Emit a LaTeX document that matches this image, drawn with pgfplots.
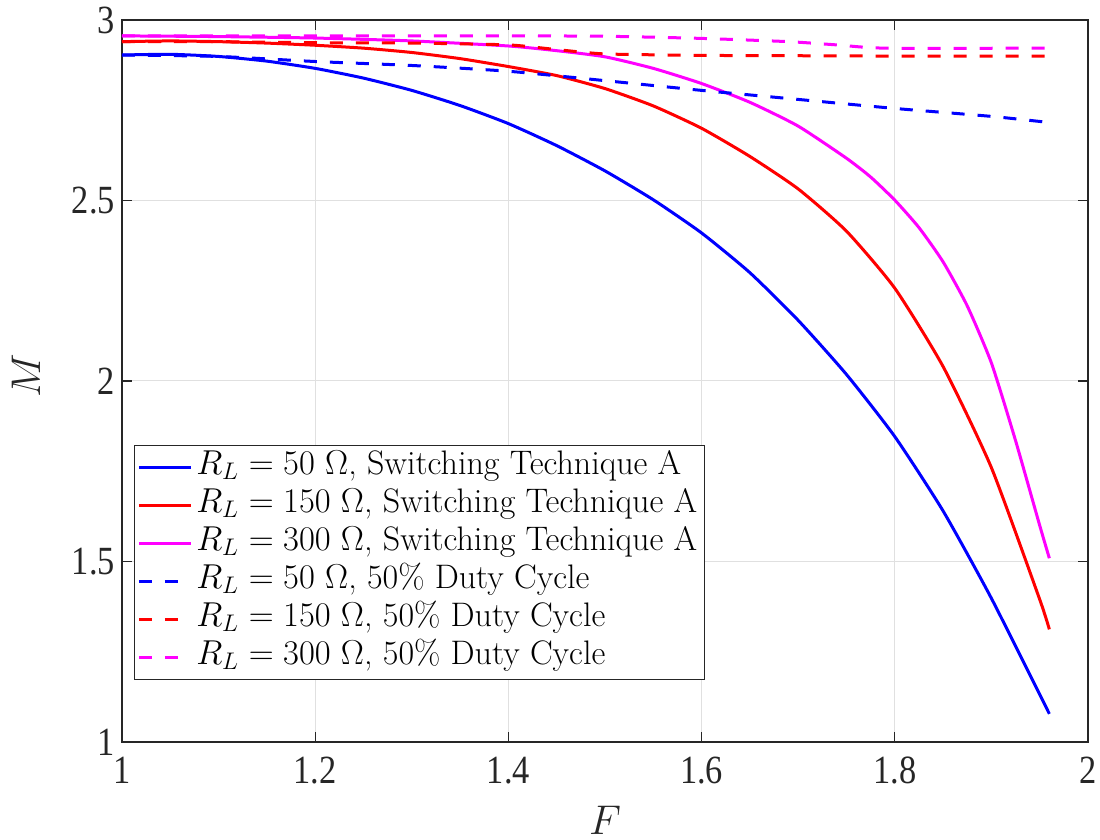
\documentclass[border=0pt]{standalone}
\usepackage{fontspec}
\usepackage{pgfplots}
\pgfplotsset{compat=1.18}
\newfontfamily\tickfont[FakeStretch=0.86]{Liberation Serif}
\definecolor{axgray}{gray}{0.15}
\definecolor{gridgray}{gray}{0.88}
\definecolor{mblue}{rgb}{0,0,1}
\definecolor{mred}{rgb}{1,0,0}
\definecolor{mmag}{rgb}{1,0,1}
\begin{document}
\begin{tikzpicture}
\begin{axis}[
  scale only axis, width=483pt, height=361pt,
  at={(0pt,0pt)}, anchor=south west,
  xmin=1, xmax=2, ymin=1, ymax=3,
  xtick={1,1.2,1.4,1.6,1.8,2}, ytick={1,1.5,2,2.5,3},
  grid=major, major grid style={draw=gridgray, line width=0.5pt},
  axis line style={draw=axgray, line width=0.6pt},
  tick style={draw=axgray, line width=0.6pt}, tick align=inside, major tick length=5pt,
  /pgf/number format/assume math mode=true,
  ticklabel style={font=\tickfont\fontsize{20}{20}\selectfont, text=black!85},
  xticklabel style={yshift=-4pt},
  yticklabel style={xshift=0pt},
  xlabel={$F$}, ylabel={$M$},
  label style={font=\fontsize{22}{26}\selectfont, text=black!85},
  xlabel style={at={(axis description cs:0.5,-0.108)}, anchor=center},
  ylabel style={at={(axis description cs:-0.0994,0.507)}, anchor=center},
  legend style={at={(axis description cs:0.0124,0.0859)}, anchor=south west,
    draw=axgray, line width=0.5pt, fill=white, inner sep=1.5pt,
    font=\fontsize{17}{19}\selectfont, row sep=0pt,
    nodes={inner ysep=0pt, text height=13pt, text depth=6pt}},
  legend cell align=left,
  legend image code/.code={\draw (0pt,0pt) -- (26pt,0pt);},
  every axis plot/.append style={line width=1.5pt, smooth, tension=0.35},
]
\addplot[mblue] coordinates {
(1.00,2.903) (1.05,2.905) (1.10,2.899) (1.15,2.886) (1.20,2.866) (1.25,2.839)
(1.30,2.805) (1.35,2.763) (1.40,2.713) (1.45,2.652) (1.50,2.582) (1.55,2.502)
(1.60,2.410) (1.65,2.300) (1.70,2.168) (1.75,2.018) (1.80,1.846) (1.85,1.640)
(1.90,1.398) (1.96,1.078)};
\addlegendentry{$R_L=50~\Omega$, Switching Technique A}
\addplot[mred] coordinates {
(1.00,2.940) (1.05,2.942) (1.10,2.940) (1.15,2.936) (1.20,2.930) (1.25,2.922)
(1.30,2.910) (1.35,2.893) (1.40,2.871) (1.45,2.846) (1.50,2.810) (1.55,2.762)
(1.60,2.700) (1.65,2.622) (1.70,2.532) (1.75,2.415) (1.80,2.257) (1.85,2.040)
(1.90,1.760) (1.95,1.395) (1.96,1.312)};
\addlegendentry{$R_L=150~\Omega$, Switching Technique A}
\addplot[mmag] coordinates {
(1.00,2.956) (1.10,2.954) (1.20,2.950) (1.30,2.942) (1.40,2.928) (1.45,2.915)
(1.50,2.898) (1.55,2.866) (1.60,2.824) (1.65,2.772) (1.70,2.706) (1.75,2.617)
(1.775,2.565) (1.80,2.501) (1.825,2.425) (1.85,2.330) (1.875,2.208) (1.90,2.050)
(1.925,1.835) (1.95,1.600) (1.96,1.509)};
\addlegendentry{$R_L=300~\Omega$, Switching Technique A}
\addplot[mblue, dash pattern=on 6.5pt off 6.5pt] coordinates {
(1.00,2.903) (1.10,2.899) (1.20,2.885) (1.30,2.874) (1.40,2.858) (1.50,2.832)
(1.60,2.805) (1.70,2.780) (1.80,2.755) (1.90,2.733) (1.96,2.716)};
\addlegendentry{$R_L=50~\Omega$, 50\% Duty Cycle}
\addplot[mred, dash pattern=on 6.5pt off 6.5pt] coordinates {
(1.00,2.940) (1.10,2.940) (1.20,2.937) (1.30,2.936) (1.40,2.931) (1.45,2.918)
(1.50,2.906) (1.60,2.902) (1.70,2.901) (1.80,2.900) (1.96,2.900)};
\addlegendentry{$R_L=150~\Omega$, 50\% Duty Cycle}
\addplot[mmag, dash pattern=on 6.5pt off 6.5pt] coordinates {
(1.00,2.956) (1.20,2.956) (1.40,2.956) (1.50,2.955) (1.60,2.949) (1.69,2.940)
(1.74,2.931) (1.79,2.922) (1.96,2.922)};
\addlegendentry{$R_L=300~\Omega$, 50\% Duty Cycle}
\end{axis}
\pgfresetboundingbox
\useasboundingbox (-61pt,-49pt) rectangle (489pt,371pt);
\end{tikzpicture}
\end{document}
